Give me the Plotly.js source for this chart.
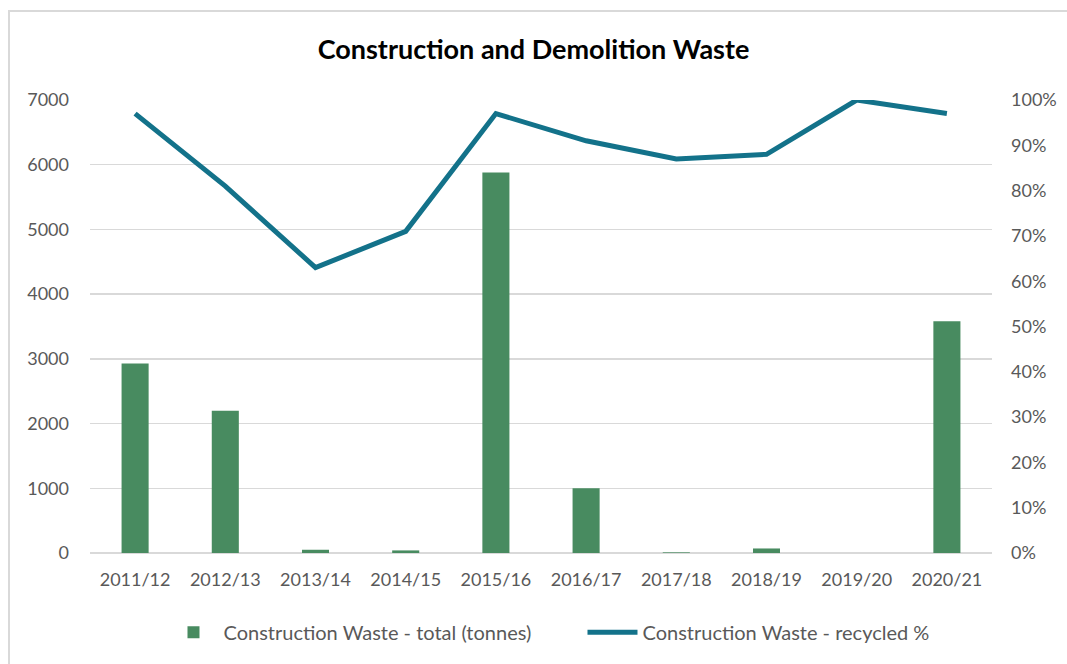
<!DOCTYPE html>
<html>
<head>
<meta charset="utf-8">
<script src="https://cdn.plot.ly/plotly-3.0.1.min.js"></script>
<style>
html,body{margin:0;padding:0;background:#fff;}
#wrap{position:relative;width:1067px;height:664px;}
#chart{position:absolute;left:0;top:0;width:1067px;height:664px;}
#frame{position:absolute;left:8px;top:10px;width:1070px;height:670px;border-left:2px solid #d9d9d9;border-top:2px solid #d9d9d9;pointer-events:none;}
</style>
</head>
<body>
<div id="wrap"><div id="chart"></div><div id="frame"></div></div>
<script>
const categories = ["2011/12","2012/13","2013/14","2014/15","2015/16","2016/17","2017/18","2018/19","2019/20","2020/21"];
const totalTonnes = [2930, 2200, 50, 40, 5880, 1000, 10, 70, 0, 3580];
const recycledPct = [0.97, 0.81, 0.63, 0.71, 0.97, 0.91, 0.87, 0.88, 1.00, 0.97];
const leftTicks = [0,1000,2000,3000,4000,5000,6000,7000];
const rightTicks = [0,0.1,0.2,0.3,0.4,0.5,0.6,0.7,0.8,0.9,1.0];

const font = "Lato, 'Open Sans', sans-serif";
const data = [
  {type:'bar', x:categories, y:totalTonnes, name:'Construction Waste - total (tonnes)',
   marker:{color:'#488B60', line:{color:'#488B60', width:0}}, yaxis:'y'},
  {type:'scatter', mode:'lines', x:categories, y:recycledPct, name:'Construction Waste - recycled %',
   line:{color:'#13728A', width:5}, yaxis:'y2'}
];
const layout = {
  width:1067, height:664,
  margin:{l:90, r:75, t:100, b:111},
  paper_bgcolor:'#fff', plot_bgcolor:'#fff',
  title:{text:'<b>Construction and Demolition Waste</b>', font:{family:font, size:27, color:'#000'}, x:0.5, xanchor:'center', y:0.925, yanchor:'middle'},
  bargap:0.7,
  showlegend:true,
  legend:{orientation:'h', x:0.546, xanchor:'center', y:-0.175, yanchor:'middle', font:{family:font, size:20, color:'#595959'}, traceorder:'normal', itemwidth:50, entrywidth:354},
  xaxis:{type:'category', tickfont:{family:font, size:18, color:'#595959'}, showgrid:false, showline:false, zeroline:false, ticks:'', ticklen:0, ticklabelstandoff:14},
  yaxis:{range:[0,7000], tickvals:leftTicks, ticktext:leftTicks.map(String), tickfont:{family:font, size:18, color:'#595959'},
    showgrid:true, gridcolor:'#d9d9d9', gridwidth:1.5, zeroline:true, zerolinecolor:'#d9d9d9', zerolinewidth:1.5, showline:false, ticks:'', ticklabelstandoff:20, fixedrange:true},
  yaxis2:{range:[0,1], overlaying:'y', side:'right', tickvals:rightTicks, tickformat:'.0%', tickfont:{family:font, size:18, color:'#595959'},
    showgrid:false, zeroline:false, showline:false, ticks:'', ticklabelstandoff:18}
};
Plotly.newPlot('chart', data, layout, {displayModeBar:false, staticPlot:true});
</script>
</body>
</html>
